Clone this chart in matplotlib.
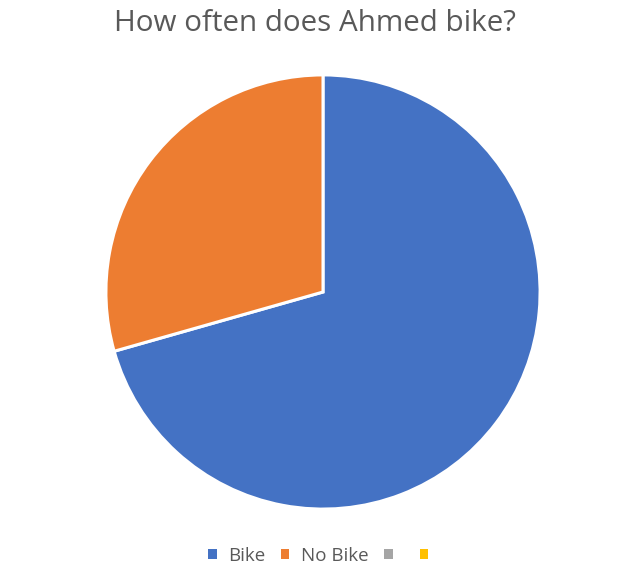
import matplotlib.pyplot as plt
from matplotlib.patches import Patch

categories = ['Bike', 'No Bike', '', '']
values = [70.6, 29.4, 0, 0]
colors = ['#4472C4', '#ED7D31', '#A5A5A5', '#FFC000']

fig = plt.figure(figsize=(6.3, 5.83), dpi=100)
plt.rcParams['font.family'] = ['Open Sans', 'DejaVu Sans']

# pie area
ax = fig.add_axes([(323 - 216) / 630, (583 - 508) / 583, 432 / 630, 432 / 583])
shown = [(v, c) for v, c in zip(values, colors) if v > 0]
ax.pie([v for v, c in shown], colors=[c for v, c in shown], startangle=90,
       counterclock=False, wedgeprops=dict(edgecolor='white', linewidth=2.2))
ax.set_xlim(-0.995, 0.995)
ax.set_ylim(-0.995, 0.995)
ax.set_aspect('equal')

fig.suptitle('How often does Ahmed bike?', y=0.985, fontsize=21.3, color='#595959')

handles = [Patch(facecolor=c, edgecolor='none') for c in colors]
fig.legend(handles, categories, loc='center', bbox_to_anchor=(0.514, 0.047), ncol=4,
           frameon=False, fontsize=13.5, labelcolor='#595959', handlelength=0.45,
           handleheight=0.45, handletextpad=0.6, columnspacing=0.85)

fig.savefig('out.png', dpi=100)
